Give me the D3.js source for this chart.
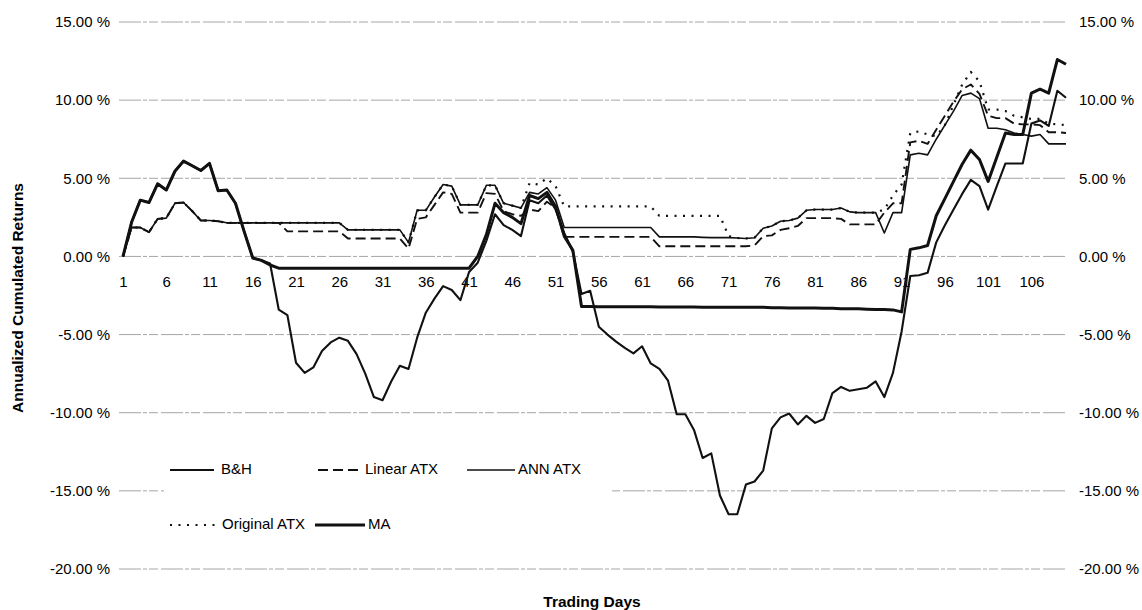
<!DOCTYPE html>
<html>
<head>
<meta charset="utf-8">
<script src="https://cdn.jsdelivr.net/npm/d3@7"></script>
<style>
  html, body { margin: 0; padding: 0; background: #fff; }
  text { font-family: "Liberation Sans", Arial, sans-serif; fill: #000; }
</style>
</head>
<body>
<div id="chart"></div>
<script>
// trading days 1..110
const days = d3.range(1, 111);
const dayTicks = [1, 6, 11, 16, 21, 26, 31, 36, 41, 46, 51, 56, 61, 66, 71, 76, 81, 86, 91, 96, 101, 106];
const yTicks = [-20, -15, -10, -5, 0, 5, 10, 15];

const seriesNames = ['B&H', 'Linear ATX', 'ANN ATX', 'Original ATX', 'MA'];

// annualized cumulated returns, %
const bh = [
  0, 2.2, 3.6, 3.45, 4.65, 4.25, 5.45, 6.1, 5.8, 5.5,
  5.95, 4.2, 4.25, 3.4, 1.6, -0.1, -0.25, -0.45, -3.4, -3.75,
  -6.8, -7.45, -7.1, -6.05, -5.5, -5.2, -5.4, -6.25, -7.5, -9.0,
  -9.2, -8.0, -7.0, -7.2, -5.2, -3.6, -2.7, -1.9, -2.15, -2.8,
  -1.0, -0.4, 1.0, 2.7, 2.0, 1.7, 1.3, 3.6, 3.4, 3.9,
  3.0, 1.5, 0.3, -2.4, -2.2, -4.5, -5.0, -5.45, -5.85, -6.2,
  -5.75, -6.85, -7.2, -7.95, -10.1, -10.1, -11.1, -12.9, -12.6, -15.3,
  -16.5, -16.5, -14.6, -14.4, -13.7, -11.0, -10.3, -10.05, -10.75, -10.2,
  -10.65, -10.4, -8.75, -8.35, -8.6, -8.5, -8.4, -8.0, -9.0, -7.45,
  -4.8, -1.25, -1.2, -1.05, 0.9, 2.0, 3.0, 4.0, 4.9, 4.5,
  3.0, 4.5, 5.95, 5.95, 5.95, 8.5, 8.7, 8.35, 10.6, 10.15
];

const linAtx = [
  0, 1.85, 1.85, 1.55, 2.4, 2.45, 3.4, 3.45, 2.9, 2.3,
  2.3, 2.25, 2.15, 2.15, 2.15, 2.15, 2.15, 2.15, 2.15, 1.6,
  1.6, 1.6, 1.6, 1.6, 1.6, 1.6, 1.15, 1.15, 1.15, 1.15,
  1.15, 1.15, 1.15, 0.5, 2.4, 2.5, 3.3, 4.1, 4.0, 2.8,
  2.8, 2.8, 4.05, 4.0, 2.9, 2.7, 2.6, 3.0, 2.9, 3.5,
  3.1, 1.25, 1.25, 1.25, 1.25, 1.25, 1.25, 1.25, 1.25, 1.25,
  1.25, 1.25, 0.65, 0.65, 0.65, 0.65, 0.65, 0.65, 0.65, 0.65,
  0.65, 0.65, 0.65, 0.7, 1.3, 1.35, 1.7, 1.8, 1.95, 2.45,
  2.45, 2.45, 2.45, 2.4, 2.05, 2.05, 2.05, 2.05, 2.8, 3.4,
  3.4, 7.3, 7.4, 7.2, 8.1, 9.0, 9.9, 10.7, 11.0, 10.4,
  9.0, 8.85, 8.85, 8.5, 8.45, 8.45, 8.4, 7.95, 7.95, 7.9
];

const annAtx = [
  0, 1.85, 1.85, 1.55, 2.4, 2.45, 3.4, 3.45, 2.9, 2.3,
  2.3, 2.25, 2.15, 2.15, 2.15, 2.15, 2.15, 2.15, 2.15, 2.15,
  2.15, 2.15, 2.15, 2.15, 2.15, 2.15, 1.7, 1.7, 1.7, 1.7,
  1.7, 1.7, 1.7, 0.9, 2.95, 2.95, 3.8, 4.6, 4.5, 3.3,
  3.3, 3.3, 4.55, 4.55, 3.4, 3.25, 3.1, 4.1, 4.0, 4.4,
  3.6, 1.85, 1.85, 1.85, 1.85, 1.85, 1.85, 1.85, 1.85, 1.85,
  1.85, 1.85, 1.25, 1.25, 1.25, 1.25, 1.25, 1.22, 1.2, 1.2,
  1.2, 1.18, 1.15, 1.2, 1.8, 1.95, 2.25, 2.3, 2.45, 2.95,
  3.0, 3.0, 3.0, 3.1, 2.85, 2.8, 2.8, 2.8, 1.5, 2.8,
  2.8, 6.5, 6.6, 6.5, 7.5, 8.4, 9.3, 10.3, 10.45, 10.1,
  8.2, 8.2, 8.1, 7.9, 7.8, 7.7, 7.8, 7.2, 7.2, 7.2
];

const origAtx = [
  0, 1.85, 1.85, 1.55, 2.4, 2.45, 3.4, 3.45, 2.9, 2.3,
  2.3, 2.25, 2.15, 2.15, 2.15, 2.15, 2.15, 2.15, 2.15, 2.15,
  2.15, 2.15, 2.15, 2.15, 2.15, 2.15, 1.7, 1.7, 1.7, 1.7,
  1.7, 1.7, 1.7, 0.9, 2.95, 2.95, 3.8, 4.6, 4.5, 3.3,
  3.3, 3.3, 4.55, 4.55, 3.4, 3.25, 3.1, 4.7, 4.6, 5.0,
  4.5, 3.2, 3.2, 3.2, 3.2, 3.2, 3.2, 3.2, 3.2, 3.2,
  3.2, 3.2, 2.6, 2.6, 2.6, 2.6, 2.6, 2.6, 2.6, 2.6,
  1.3, 1.18, 1.15, 1.2, 1.8, 1.95, 2.25, 2.3, 2.45, 2.95,
  3.0, 3.0, 3.0, 3.1, 2.85, 2.8, 2.8, 2.8, 3.0, 3.9,
  4.6, 7.9, 8.0, 7.8, 7.7, 8.4, 9.7, 11.0, 11.8, 11.2,
  9.4, 9.4, 9.3, 9.0, 8.9, 8.8, 8.8, 8.5, 8.45, 8.4
];

const ma = [
  0, 2.2, 3.6, 3.45, 4.65, 4.25, 5.45, 6.1, 5.8, 5.5,
  5.95, 4.2, 4.25, 3.4, 1.6, -0.1, -0.25, -0.55, -0.75, -0.75,
  -0.75, -0.75, -0.75, -0.75, -0.75, -0.75, -0.75, -0.75, -0.75, -0.75,
  -0.75, -0.75, -0.75, -0.75, -0.75, -0.75, -0.75, -0.75, -0.75, -0.75,
  -0.75, 0.0, 1.4, 3.4, 2.8, 2.5, 2.1, 3.9, 3.7, 4.1,
  3.2, 1.3, 0.4, -3.2, -3.2, -3.22, -3.22, -3.22, -3.22, -3.22,
  -3.22, -3.22, -3.24, -3.24, -3.24, -3.24, -3.24, -3.25, -3.25, -3.25,
  -3.25, -3.25, -3.25, -3.25, -3.25, -3.28, -3.28, -3.3, -3.3, -3.3,
  -3.3, -3.32, -3.32, -3.35, -3.35, -3.35, -3.38, -3.4, -3.4, -3.42,
  -3.55, 0.45, 0.55, 0.7, 2.6, 3.7, 4.8, 5.9, 6.8, 6.2,
  4.8, 6.35, 7.9, 7.8, 7.8, 10.45, 10.7, 10.45, 12.6, 12.3
];

const seriesValues = [bh, linAtx, annAtx, origAtx, ma];

// line looks, same order as seriesNames
const looks = [
  { width: 2.1, dash: null },
  { width: 1.9, dash: '10,5' },
  { width: 1.6, dash: null },
  { width: 2.2, dash: '2,6.5' },
  { width: 3.0, dash: null }
];

const W = 1142, H = 610;
const left = 119, right = 1066;

const x = d3.scaleLinear([1, 110], [123, 1066]);
const y = d3.scaleLinear([-20, 15], [569, 22]);
const pctFmt = d => d.toFixed(2) + ' %';

const svg = d3.select('#chart').append('svg')
  .attr('width', W)
  .attr('height', H);

svg.append('rect')
  .attr('width', W)
  .attr('height', H)
  .attr('fill', '#fff');

// gridlines (thin grey, broken like the scan)
svg.append('g')
  .selectAll('line')
  .data(yTicks)
  .join('line')
    .attr('x1', left)
    .attr('x2', right)
    .attr('y1', d => y(d))
    .attr('y2', d => y(d))
    .attr('stroke', '#9c9c9c')
    .attr('stroke-width', 0.9)
    .attr('stroke-dasharray', '22,2,4,2,9,3');

// left and right value axes
const yLeft = svg.append('g')
  .attr('transform', `translate(${left},0)`)
  .call(d3.axisLeft(y).tickValues(yTicks).tickSize(0).tickPadding(9).tickFormat(pctFmt));
const yRight = svg.append('g')
  .attr('transform', `translate(${right},0)`)
  .call(d3.axisRight(y).tickValues(yTicks).tickSize(0).tickPadding(13).tickFormat(pctFmt));
[yLeft, yRight].forEach(g => {
  g.select('.domain').remove();
  g.selectAll('text')
    .style('font-size', '15px')
    .style('font-family', '"Liberation Sans", Arial, sans-serif')
    .attr('fill', '#000');
});

// category axis sits on the 0 % line
const xAxis = svg.append('g')
  .attr('transform', `translate(0,${y(0)})`)
  .call(d3.axisBottom(x).tickValues(dayTicks).tickSize(0).tickPadding(19.5).tickFormat(d => d));
xAxis.select('.domain').remove();
xAxis.selectAll('text')
  .style('font-size', '15px')
  .style('font-family', '"Liberation Sans", Arial, sans-serif')
  .attr('fill', '#000');

// axis titles
svg.append('text')
  .attr('transform', `translate(19,298) rotate(-90)`)
  .attr('text-anchor', 'middle')
  .attr('dominant-baseline', 'middle')
  .style('font-size', '15.5px')
  .style('font-weight', 'bold')
  .text('Annualized Cumulated Returns');

svg.append('text')
  .attr('x', 592)
  .attr('y', 603)
  .attr('text-anchor', 'middle')
  .attr('dominant-baseline', 'middle')
  .style('font-size', '15.5px')
  .style('font-weight', 'bold')
  .text('Trading Days');

// legend (white box hides the -15 % gridline behind it)
svg.append('rect')
  .attr('x', 164)
  .attr('y', 446)
  .attr('width', 448)
  .attr('height', 100)
  .attr('fill', '#fff');

const legendSlots = [
  { x1: 170, x2: 214, tx: 221, y: 470 },
  { x1: 318, x2: 362, tx: 365, y: 470 },
  { x1: 467, x2: 515, tx: 518, y: 470 },
  { x1: 170, x2: 218, tx: 222, y: 525 },
  { x1: 315, x2: 365, tx: 368, y: 525 }
];

const legend = svg.append('g');
seriesNames.forEach((name, i) => {
  const s = legendSlots[i];
  legend.append('line')
    .attr('x1', s.x1)
    .attr('x2', s.x2)
    .attr('y1', s.y)
    .attr('y2', s.y)
    .attr('stroke', '#111')
    .attr('stroke-width', looks[i].width)
    .attr('stroke-dasharray', looks[i].dash);
  legend.append('text')
    .attr('x', s.tx)
    .attr('y', s.y)
    .attr('dominant-baseline', 'middle')
    .style('font-size', '15px')
    .text(name);
});

// series lines, ATX group under B&H and MA
const line = d3.line()
  .x((d, i) => x(days[i]))
  .y(d => y(d));

const drawOrder = [3, 1, 2, 0, 4];
svg.append('g')
  .selectAll('path')
  .data(drawOrder)
  .join('path')
    .attr('d', i => line(seriesValues[i]))
    .attr('fill', 'none')
    .attr('stroke', '#111')
    .attr('stroke-width', i => looks[i].width)
    .attr('stroke-dasharray', i => looks[i].dash)
    .attr('stroke-linejoin', 'round');
</script>
</body>
</html>
